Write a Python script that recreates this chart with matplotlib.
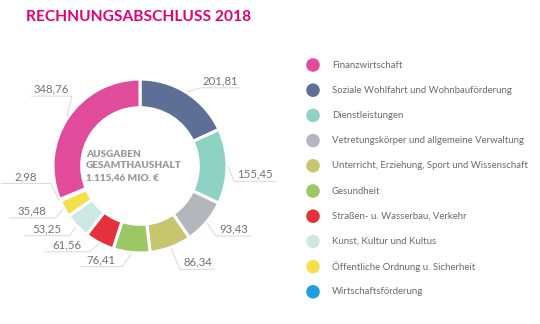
import matplotlib
matplotlib.use("Agg")
import matplotlib.pyplot as plt
import numpy as np

plt.rcParams['font.family'] = ['Lato', 'DejaVu Sans']

# Ausgaben nach Bereichen (Mio. EUR), im Uhrzeigersinn ab 12 Uhr
categories = [
    'Soziale Wohlfahrt und Wohnbauförderung',
    'Dienstleistungen',
    'Vetretungskörper und allgemeine Verwaltung',
    'Unterricht, Erziehung, Sport und Wissenschaft',
    'Gesundheit',
    'Straßen- u. Wasserbau, Verkehr',
    'Kunst, Kultur und Kultus',
    'Öffentliche Ordnung u. Sicherheit',
    'Wirtschaftsförderung',
    'Finanzwirtschaft',
]
values = [201.81, 155.45, 93.43, 86.34, 76.41, 61.56, 53.25, 35.48, 2.98, 348.76]
colors = ['#5e6f96', '#8ed2c3', '#b4b6bd', '#c8c56f', '#9cc765',
          '#e4313b', '#cde8e2', '#f4e14a', '#1f9fe0', '#e04b9b']

# Reihenfolge in der Legende
legend_order = [9, 0, 1, 2, 3, 4, 5, 6, 7, 8]

total_label = 'AUSGABEN\nGESAMTHAUSHALT\n1.115,46 MIO. €'

# Knickpunkt der Beschriftungslinie relativ zum Segmentrand (px) und Linienlänge
label_offsets = [(13, -4), (6, 15), (9, 13), (9, 21), (-9, 13),
                 (-9, 8), (-7, 9), (-8, 9), (-8, -17), (5, -21)]
line_len = [40, 42, 35, 35, 42, 45, 45, 46, 50, 41]


def fmt(v):
    return f'{v:.2f}'.replace('.', ',')


fig = plt.figure(figsize=(5.4, 3.24), dpi=100)
ax = fig.add_axes([0, 0, 1, 1])

cx, cy, R = 140, 166, 87
wedges, _ = ax.pie(values, colors=colors, startangle=-90, counterclock=True,
                   center=(cx, cy), radius=R, frame=True,
                   wedgeprops=dict(width=R * 0.33, edgecolor='white', linewidth=2.2))

ax.set_xlim(0, 540)
ax.set_ylim(324, 0)
ax.set_aspect('equal')
ax.axis('off')

fig.text(26 / 540, 1 - 17 / 324, 'RECHNUNGSABSCHLUSS 2018', color='#e20074',
         fontsize=11.2, fontweight='bold', va='center', ha='left')

ax.text(86, 166, total_label, ha='left', va='center', fontsize=7.2,
        fontweight='heavy', color='#9a9a9a', linespacing=1.3)

# Wertbeschriftungen mit Führungslinien
for w, v, (dx, dy), L in zip(wedges, values, label_offsets, line_len):
    mid = np.deg2rad((w.theta1 + w.theta2) / 2)
    ax0 = cx + (R + 1) * np.cos(mid)
    ay0 = cy + (R + 1) * np.sin(mid)
    ex, ey = ax0 + dx, ay0 + dy
    side = 1 if np.cos(mid) >= 0 else -1
    x_end = ex + side * L
    ax.plot([ax0, ex, x_end], [ay0, ey, ey], color='#d8d8d8', lw=0.7,
            solid_capstyle='butt')
    ax.text((ex + x_end) / 2, ey - 1.5, fmt(v), ha='center', va='bottom',
            fontsize=8.2, color='#727272')

# Legende
for i, k in enumerate(legend_order):
    y = 65 + i * 25.2
    ax.scatter(313, y, s=95, color=colors[k], edgecolor='none')
    ax.text(332, y, categories[k], ha='left', va='center', fontsize=6.9,
            color='#6a6a6a')

fig.savefig('out.png', dpi=100, facecolor='white')
